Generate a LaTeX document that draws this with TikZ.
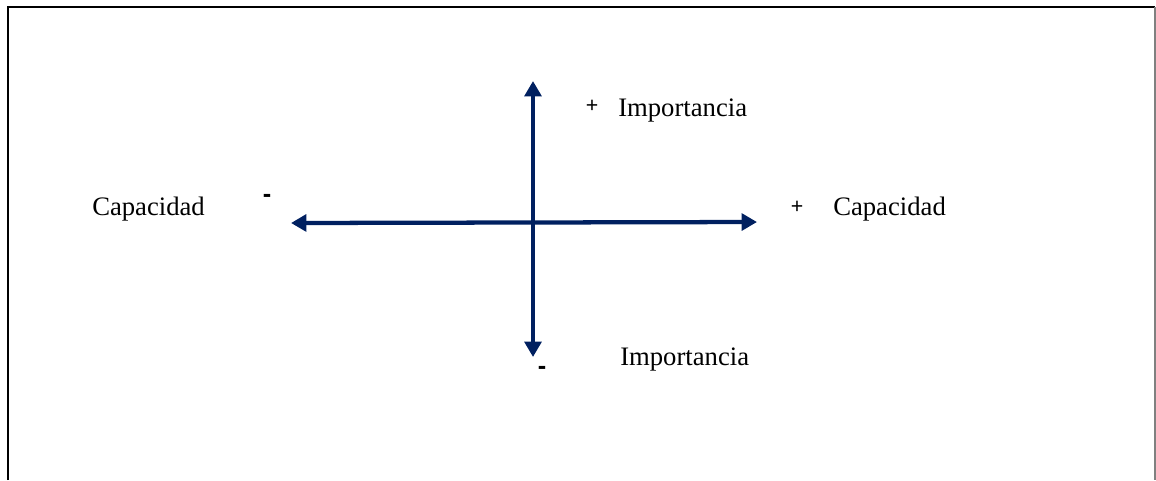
\documentclass[tikz,border=0pt]{standalone}
\usepackage{fontspec}
\setmainfont{Liberation Serif}
\newfontfamily\signfont{Liberation Sans}
\usetikzlibrary{arrows.meta}
\definecolor{axisblue}{RGB}{0,32,96}
\tikzset{
  axisline/.style={draw=axisblue, line width=3.2pt, {Triangle[width=12.5pt,length=11.5pt]}-{Triangle[width=12.5pt,length=11.5pt]}},
  label/.style={inner sep=0pt, anchor=base west, font=\fontsize{20}{24}\selectfont},
  signlabel/.style={inner sep=0pt, anchor=center, font=\signfont\fontsize{16}{18}\selectfont},
  minuslabel/.style={inner sep=0pt, anchor=center, font=\signfont\bfseries\fontsize{19}{21}\selectfont}
}
\begin{document}
\begin{tikzpicture}[x=0.75pt,y=-0.75pt]
\useasboundingbox (0,0) rectangle (1156,480);
\draw[line width=1.6pt, black] (8,480) -- (8,7) -- (1155,7);
\draw[line width=1.2pt, gray] (1155,7) -- (1155,480);
\coordinate (vtop) at (533,81);
\coordinate (vbot) at (533,357);
\coordinate (hleft) at (291,223);
\coordinate (hright) at (757,222);
\draw[axisline] (vbot) -- (vtop);
\draw[axisline] (hleft) -- (hright);
\node[label] (capl) at (92,215) {Capacidad};
\node[label] (capr) at (833,215) {Capacidad};
\node[label] (impt) at (618,116) {Importancia};
\node[label] (impb) at (620,365) {Importancia};
\node[signlabel] (plust) at (592,106) {+};
\node[signlabel] (plusr) at (797,207) {+};
\node[minuslabel] (minl) at (267,198) {-};
\node[minuslabel] (minb) at (542,370) {-};
\end{tikzpicture}
\end{document}
